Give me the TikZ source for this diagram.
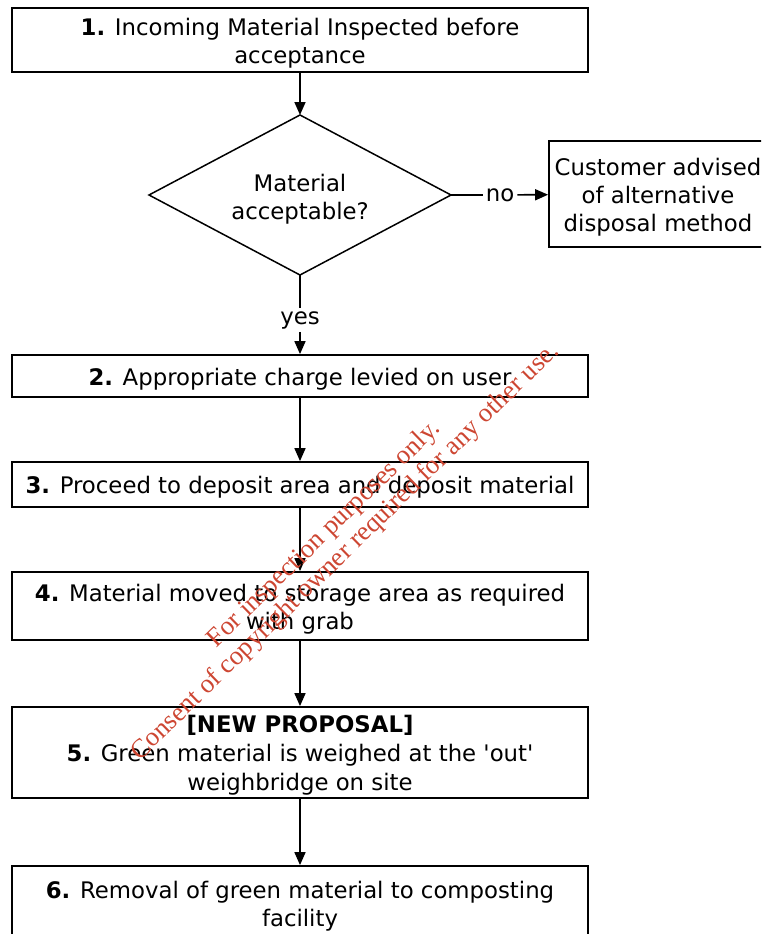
\documentclass[tikz,border=0pt]{standalone}
\usepackage{fontspec}
\setmainfont{DejaVu Sans}[Ligatures=TeXOff]
\newfontfamily\markfont{Liberation Serif}
\usetikzlibrary{arrows.meta}
\definecolor{markred}{RGB}{205,70,50}
% taller first line, so that box texts sit a little below the box centre
\newcommand{\topstrut}{\rule{0pt}{23.5pt}}
\begin{document}
\begin{tikzpicture}[x=1pt,y=-1pt,
  every node/.style={font=\fontsize{22.8}{28}\selectfont, align=center},
  stepbox/.style={draw, line width=1.8pt, minimum width=576pt, inner sep=0pt},
  flow/.style={line width=1.7pt, -{Triangle[length=13pt,width=11pt]}},
  plain/.style={line width=1.7pt},
  marktext/.style={text=markred, anchor=base, rotate=44.2, inner sep=0pt,
    font=\markfont\fontsize{26.6}{30}\selectfont}]
\useasboundingbox (0,0) rectangle (761,934);
\begin{scope}
\clip (0,0) rectangle (761,934);
% step 1
\node[stepbox, minimum height=64pt] (s1) at (300,40) {\topstrut\textbf{1.} Incoming Material Inspected before\\acceptance};
% decision diamond
\coordinate (qt) at (300,115);
\coordinate (qb) at (300,275);
\coordinate (ql) at (149,195);
\coordinate (qr) at (451,195);
\draw[line width=1.5pt, line join=miter] (qt) -- (qr) -- (qb) -- (ql) -- cycle;
\node (q) at (300,199) {Material\\acceptable?};
% rejected branch
\node[draw, line width=1.8pt, minimum width=218pt, minimum height=106pt, inner sep=0pt] (c) at (658,194) {\topstrut Customer advised\\of alternative\\disposal method};
% remaining steps
\node[stepbox, minimum height=42pt] (s2) at (300,376) {\topstrut\textbf{2.} Appropriate charge levied on user};
\node[stepbox, minimum height=45pt] (s3) at (300,484.5) {\topstrut\textbf{3.} Proceed to deposit area and deposit material};
\node[stepbox, minimum height=68pt] (s4) at (300,606) {\topstrut\textbf{4.} Material moved to storage area as required\\with grab};
\node[stepbox, minimum height=91pt, font=\fontsize{22.8}{29}\selectfont] (s5) at (300,752.5) {\topstrut\textbf{[NEW PROPOSAL]}\\\textbf{5.} Green material is weighed at the 'out'\\weighbridge on site};
\node[stepbox, minimum height=74pt] (s6) at (300,903) {\topstrut\textbf{6.} Removal of green material to composting\\facility};
% decision labels
\node[inner sep=3pt] (no) at (500,195) {no};
\node[inner sep=3pt] (yes) at (300,320) {yes};
% connectors
\draw[flow] (s1) -- (qt);
\draw[plain] (qr) -- (no);
\draw[flow] (no) -- (c);
\draw[plain] (qb) -- (yes);
\draw[flow] (yes) -- (s2);
\draw[flow] (s2) -- (s3);
\draw[flow] (s3) -- (s4);
\draw[flow] (s4) -- (s5);
\draw[flow] (s5) -- (s6.north);
\end{scope}
% watermark
\node[marktext] (m1) at (329,539) {For inspection purposes only.};
\node[marktext] (m2) at (350,557) {Consent of copyright owner required for any other use.};
\end{tikzpicture}
\end{document}
